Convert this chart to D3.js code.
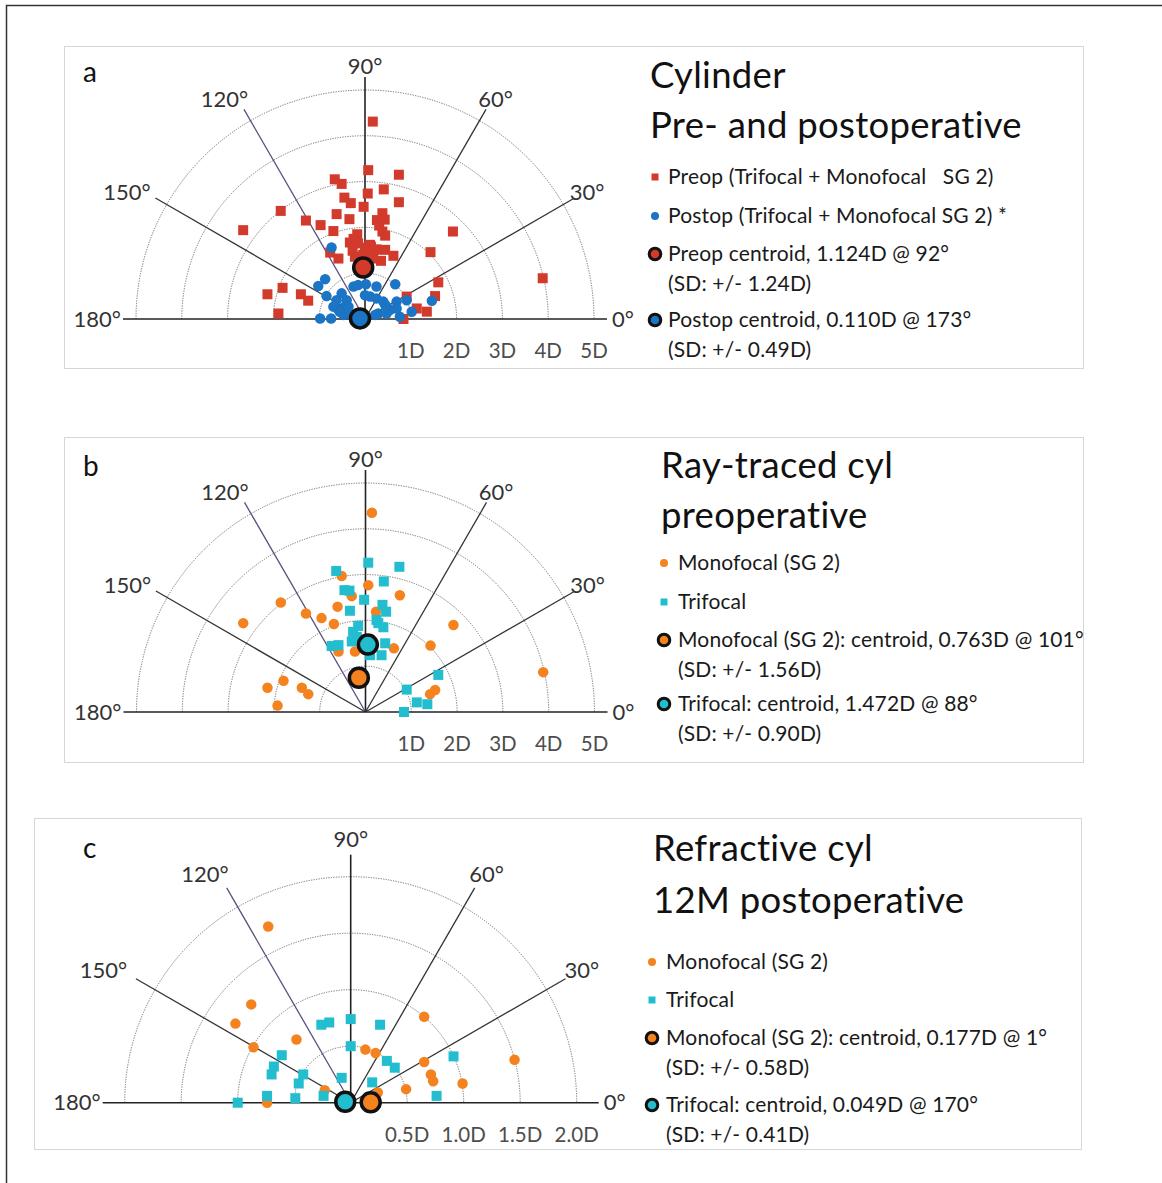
<!DOCTYPE html>
<html>
<head>
<meta charset="utf-8">
<script src="https://cdn.jsdelivr.net/npm/d3@7"></script>
<style>
  body { margin: 0; background: #fff; }
  svg { display: block; }
  text { font-family: Lato, 'Open Sans', sans-serif; }
</style>
</head>
<body>
<script>
// cylinder vectors, horizontal / vertical component in dioptres [x, y]
const preopA = [
  [0.17, 4.31], [0.07, 3.25], [0.74, 3.15], [-0.66, 3.05], [-0.51, 2.95], [0.06, 2.74], [0.41, 2.83],
  [-0.45, 2.65], [-0.31, 2.53], [-0.03, 2.45], [0.74, 2.55], [-1.84, 2.36], [-1.29, 2.15], [-0.97, 2.05],
  [-0.62, 2.29], [-0.34, 2.18], [-0.69, 1.92], [-2.66, 1.94], [0.38, 2.31], [0.26, 2.16], [0.43, 2.17],
  [0.31, 2.04], [0.38, 1.91], [0.44, 1.82], [1.92, 1.91], [1.43, 1.46],
  [-0.17, 1.85], [-0.25, 1.75], [-0.33, 1.67], [-0.15, 1.65], [-0.27, 1.49], [-0.76, 1.45], [-0.58, 1.32],
  [0.0, 1.56], [0.11, 1.62], [0.25, 1.52], [0.44, 1.51], [0.11, 1.43], [-0.04, 1.40], [-0.22, 1.36],
  [0.35, 1.27], [0.62, 1.38], [0.18, 1.32], [0.13, 1.58], [0.21, 1.51],
  [-1.89, 0.12], [-2.13, 0.54], [-1.80, 0.68], [-1.40, 0.54], [-1.24, 0.40], [1.60, 0.80], [1.53, 0.50],
  [1.35, 0.16], [1.13, 0.23], [0.91, 0.49], [0.84, 0.0], [3.88, 0.89]
]
const postopA = [
  [-0.73, 1.56], [-0.87, 0.87], [-1.02, 0.72], [-0.84, 0.50], [-0.98, 0.01], [-0.74, 0.01], [-0.62, 0.41],
  [-0.51, 0.56], [-0.44, 0.27], [-0.58, 0.20], [-0.47, 0.09], [-0.69, 0.27], [-0.25, 0.71], [-0.15, 0.74],
  [0.02, 0.76], [0.25, 0.71], [0.66, 0.76], [0.0, 0.52], [0.11, 0.49], [0.25, 0.45], [0.40, 0.38],
  [0.47, 0.27], [0.29, 0.12], [0.47, 0.12], [0.69, 0.38], [0.69, 0.23], [0.76, 0.05], [0.91, 0.41],
  [1.02, 0.16], [1.46, 0.40], [-0.34, 0.12], [-0.40, 0.41], [0.22, 0.09], [-0.36, 0.27], [-0.55, 0.16],
  [0.55, 0.20], [0.44, 0.31]
]
const monoB = [
  [0.14, 4.35], [3.88, 0.87], [-2.67, 1.94], [-1.85, 2.39], [-1.30, 2.15], [-0.96, 2.05], [-0.61, 2.30],
  [-0.52, 2.97], [-0.30, 2.53], [0.06, 2.77], [0.75, 2.55], [-0.69, 1.92], [0.23, 2.19], [1.92, 1.90],
  [1.42, 1.45], [0.62, 1.39], [-0.59, 1.32], [-0.23, 1.32], [-2.14, 0.53], [-1.79, 0.68], [-1.39, 0.53],
  [-1.25, 0.39], [-1.92, 0.14], [1.52, 0.48], [1.41, 0.39]
]
const triB = [
  [0.06, 3.26], [0.74, 3.17], [-0.64, 3.08], [0.40, 2.85], [-0.46, 2.66], [-0.35, 2.65], [-0.03, 2.45],
  [-0.34, 2.21], [0.37, 2.34], [0.45, 2.19], [0.24, 2.01], [0.28, 1.94], [0.39, 1.85], [-0.16, 1.88],
  [-0.27, 1.75], [-0.19, 1.64], [-0.30, 1.54], [-0.74, 1.44], [-0.59, 1.46], [0.43, 1.50], [0.35, 1.24],
  [0.10, 1.24], [1.59, 0.81], [0.90, 0.49], [1.12, 0.21], [1.35, 0.17], [0.84, 0.0]
]
const monoC = [
  [-0.73, 1.56], [-0.88, 0.87], [-1.02, 0.70], [-0.86, 0.49], [-0.48, 0.56], [-0.74, 0.0], [-0.23, 0.11],
  [0.13, 0.47], [0.22, 0.44], [0.65, 0.76], [0.65, 0.36], [0.71, 0.25], [0.73, 0.19], [0.49, 0.12],
  [0.99, 0.17], [1.45, 0.38], [0.24, 0.09]
]
const triC = [
  [-1.00, 0.0], [-0.74, 0.06], [-0.49, 0.04], [-0.24, 0.06], [-0.46, 0.17], [-0.42, 0.25], [-0.70, 0.25],
  [-0.68, 0.32], [-0.61, 0.42], [-0.26, 0.69], [-0.19, 0.71], [0.0, 0.74], [0.0, 0.50], [-0.08, 0.22],
  [0.26, 0.69], [0.32, 0.37], [0.39, 0.31], [0.19, 0.18], [0.91, 0.41], [0.76, 0.06]
]

// centroids: magnitude (D) @ axis (deg), SD (D)
const centroidsA = [{ mag: 1.124, axis: 92, sd: 1.24 }, { mag: 0.110, axis: 173, sd: 0.49 }]
const centroidsB = [{ mag: 0.763, axis: 101, sd: 1.56 }, { mag: 1.472, axis: 88, sd: 0.90 }]
const centroidsC = [{ mag: 0.177, axis: 1, sd: 0.58 }, { mag: 0.049, axis: 170, sd: 0.41 }]

const angleTicks = [0, 30, 60, 90, 120, 150, 180]
const ringTicksAB = [1, 2, 3, 4, 5]
const ringLabelsAB = ['1D', '2D', '3D', '4D', '5D']
const ringTicksC = [0.5, 1.0, 1.5, 2.0]
const ringLabelsC = ['0.5D', '1.0D', '1.5D', '2.0D']

const colors = { red: '#d23a2c', blue: '#1b74c4', orange: '#f4821f', cyan: '#22bdcf' }

const svg = d3.select('body').append('svg')
  .attr('width', 1162)
  .attr('height', 1183)

// outer frame
svg.append('path')
  .attr('d', 'M6.5,1183 V5.5 H1162')
  .attr('fill', 'none')
  .attr('stroke', '#333')
  .attr('stroke-width', 1.5)

const labelShift = { 30: 3, 60: 4, 120: -14, 150: -19 }
const rad = a => a * Math.PI / 180

function drawPanel(p) {
  const g = svg.append('g')

  g.append('rect')
    .attr('x', p.box[0] + 0.5).attr('y', p.box[1] + 0.5)
    .attr('width', p.box[2] - p.box[0]).attr('height', p.box[3] - p.box[1])
    .attr('fill', 'none').attr('stroke', '#d6d6d6')

  const r = d3.scaleLinear().domain([0, p.maxD]).range([0, p.R])
  const x = d3.scaleLinear().domain([-p.maxD, p.maxD]).range([p.cx - p.R, p.cx + p.R])
  const y = d3.scaleLinear().domain([0, p.maxD]).range([p.cy, p.cy - p.R])

  // dotted rings
  g.selectAll('.ring').data(p.rings).join('path')
    .attr('class', 'ring')
    .attr('d', d => {
      const path = d3.path()
      path.arc(p.cx, p.cy, r(d), Math.PI, 2 * Math.PI)
      return path.toString()
    })
    .attr('fill', 'none')
    .attr('stroke', '#6e6e6e')
    .attr('stroke-width', 1)
    .attr('stroke-dasharray', '1.2,1.3')

  // spokes
  g.selectAll('.spoke').data(angleTicks).join('line')
    .attr('class', 'spoke')
    .attr('x1', p.cx).attr('y1', p.cy)
    .attr('x2', d => p.cx + p.spokeR * Math.cos(rad(d)))
    .attr('y2', d => p.cy - p.spokeR * Math.sin(rad(d)))
    .attr('stroke', d => d === 120 ? '#5c4f80' : (d === 0 || d === 180 || d === 90) ? '#222' : '#333')
    .attr('stroke-width', d => (d === 0 || d === 180 || d === 90) ? 1.6 : 1.3)

  // angle labels
  g.selectAll('.alab').data(angleTicks).join('text')
    .attr('class', 'alab')
    .attr('x', d => {
      if (d === 0) return p.cx + p.spokeR + 5
      if (d === 180) return p.cx - p.spokeR - 2
      return p.cx + p.labelR * Math.cos(rad(d)) + (labelShift[d] || 0)
    })
    .attr('y', d => (d === 0 || d === 180) ? p.cy + 7.5 : p.cy - p.labelR * Math.sin(rad(d)) + 7.5)
    .attr('text-anchor', d => d === 0 ? 'start' : d === 180 ? 'end' : 'middle')
    .attr('font-size', 22)
    .attr('fill', '#333')
    .text(d => d + '°')

  // ring labels
  g.selectAll('.rlab').data(p.rings).join('text')
    .attr('class', 'rlab')
    .attr('x', d => x(d))
    .attr('y', p.cy + 39)
    .attr('text-anchor', 'middle')
    .attr('font-size', 20.5)
    .attr('fill', '#4d4d4d')
    .text((d, i) => p.ringLabels[i])

  // panel letter
  g.append('text')
    .attr('x', p.letter[0]).attr('y', p.letter[1])
    .attr('font-family', "'Liberation Sans', Arial, sans-serif")
    .attr('font-size', 28)
    .attr('fill', '#111')
    .text(p.letterText)

  // data series
  p.series.forEach(s => {
    if (s.shape === 'square') {
      g.append('g').selectAll('rect').data(s.data).join('rect')
        .attr('x', d => x(d[0]) - s.size / 2)
        .attr('y', d => y(d[1]) - s.size / 2)
        .attr('width', s.size).attr('height', s.size)
        .attr('fill', s.color)
    } else {
      g.append('g').selectAll('circle').data(s.data).join('circle')
        .attr('cx', d => x(d[0]))
        .attr('cy', d => y(d[1]))
        .attr('r', s.size / 2)
        .attr('fill', s.color)
    }
  })

  // centroids
  g.append('g').selectAll('circle').data(p.centroids).join('circle')
    .attr('cx', d => x(d.mag * Math.cos(rad(d.axis))))
    .attr('cy', d => y(d.mag * Math.sin(rad(d.axis))))
    .attr('r', 9.5)
    .attr('fill', (d, i) => p.centroidColors[i])
    .attr('stroke', '#111')
    .attr('stroke-width', 3.5)

  // legend
  const L = p.legend
  g.selectAll('.title').data(L.title).join('text')
    .attr('class', 'title')
    .attr('x', L.titleX)
    .attr('y', (d, i) => L.titleY[i])
    .attr('font-size', 36.5)
    .attr('letter-spacing', 0.3)
    .attr('fill', '#111')
    .text(d => d)

  L.items.forEach((it, i) => {
    const by = L.itemY[i]
    const my = by - 7
    if (it.type === 'square') {
      g.append('rect').attr('x', L.markX - 3.5).attr('y', my - 3.5)
        .attr('width', 7).attr('height', 7).attr('fill', it.color)
    } else if (it.type === 'dot') {
      g.append('circle').attr('cx', L.markX).attr('cy', my).attr('r', 4).attr('fill', it.color)
    } else {
      g.append('circle').attr('cx', L.markX).attr('cy', my).attr('r', 5.8)
        .attr('fill', it.color).attr('stroke', '#111').attr('stroke-width', 3)
    }
    it.lines.forEach((t, j) => {
      g.append('text')
        .attr('x', L.textX)
        .attr('y', by + j * L.lineGap)
        .attr('font-size', 21)
        .attr('letter-spacing', 0.15)
        .attr('fill', '#1a1a1a')
        .style('white-space', 'pre')
        .text(t)
    })
  })
}

const centroidText = (name, c) => [`${name}, ${c.mag.toFixed(3)}D @ ${c.axis}°`, `(SD: +/- ${c.sd.toFixed(2)}D)`]

const panels = [
  {
    letterText: 'a', letter: [83, 82], box: [64, 46, 1083, 368],
    cx: 365, cy: 319, maxD: 5, R: 229, spokeR: 242, labelR: 253,
    rings: ringTicksAB, ringLabels: ringLabelsAB,
    series: [
      { data: preopA, shape: 'square', size: 10, color: colors.red },
      { data: postopA, shape: 'circle', size: 10.5, color: colors.blue }
    ],
    centroids: centroidsA, centroidColors: [colors.red, colors.blue],
    legend: {
      title: ['Cylinder', 'Pre- and postoperative'], titleX: 650, titleY: [88, 138],
      markX: 655, textX: 668, lineGap: 30,
      itemY: [184, 223, 261, 327],
      items: [
        { type: 'square', color: colors.red, lines: ['Preop (Trifocal + Monofocal   SG 2)'] },
        { type: 'dot', color: colors.blue, lines: ['Postop (Trifocal + Monofocal SG 2) *'] },
        { type: 'centroid', color: colors.red, lines: centroidText('Preop centroid', centroidsA[0]) },
        { type: 'centroid', color: colors.blue, lines: centroidText('Postop centroid', centroidsA[1]) }
      ]
    }
  },
  {
    letterText: 'b', letter: [83, 476], box: [64, 437, 1083, 762],
    cx: 365.5, cy: 712, maxD: 5, R: 229, spokeR: 242, labelR: 253,
    rings: ringTicksAB, ringLabels: ringLabelsAB,
    series: [
      { data: monoB, shape: 'circle', size: 10.5, color: colors.orange },
      { data: triB, shape: 'square', size: 10, color: colors.cyan }
    ],
    centroids: centroidsB, centroidColors: [colors.orange, colors.cyan],
    legend: {
      title: ['Ray-traced cyl', 'preoperative'], titleX: 661, titleY: [478, 528],
      markX: 664, textX: 678, lineGap: 30,
      itemY: [570, 609, 647, 711],
      items: [
        { type: 'dot', color: colors.orange, lines: ['Monofocal (SG 2)'] },
        { type: 'square', color: colors.cyan, lines: ['Trifocal'] },
        { type: 'centroid', color: colors.orange, lines: centroidText('Monofocal (SG 2): centroid', centroidsB[0]) },
        { type: 'centroid', color: colors.cyan, lines: centroidText('Trifocal: centroid', centroidsB[1]) }
      ]
    }
  },
  {
    letterText: 'c', letter: [83, 858], box: [34, 818, 1081, 1149],
    cx: 350.7, cy: 1102.7, maxD: 2, R: 226, spokeR: 248, labelR: 263.5,
    rings: ringTicksC, ringLabels: ringLabelsC,
    series: [
      { data: monoC, shape: 'circle', size: 10.5, color: colors.orange },
      { data: triC, shape: 'square', size: 10, color: colors.cyan }
    ],
    centroids: centroidsC, centroidColors: [colors.orange, colors.cyan],
    legend: {
      title: ['Refractive cyl', '12M postoperative'], titleX: 653, titleY: [861, 913],
      markX: 652, textX: 666, lineGap: 30,
      itemY: [969, 1007, 1045, 1112],
      items: [
        { type: 'dot', color: colors.orange, lines: ['Monofocal (SG 2)'] },
        { type: 'square', color: colors.cyan, lines: ['Trifocal'] },
        { type: 'centroid', color: colors.orange, lines: centroidText('Monofocal (SG 2): centroid', centroidsC[0]) },
        { type: 'centroid', color: colors.cyan, lines: centroidText('Trifocal: centroid', centroidsC[1]) }
      ]
    }
  }
]

panels.forEach(drawPanel)
</script>
</body>
</html>
